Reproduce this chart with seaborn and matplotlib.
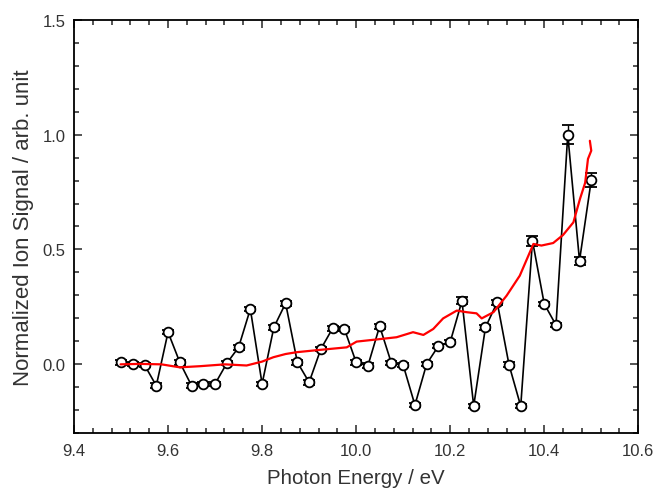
import numpy as np
import pandas as pd
import seaborn as sns
import matplotlib.pyplot as plt
from matplotlib.ticker import MultipleLocator

# ion signal scan, 9.5 - 10.5 eV in 0.025 eV steps
energy = np.round(np.arange(41) * 0.025 + 9.5, 3)
signal = [0.009, 0.002, -0.003, -0.093, 0.14, 0.009, -0.093, -0.085, -0.085, 0.005,
          0.074, 0.241, -0.085, 0.161, 0.266, 0.009, -0.078, 0.067, 0.157, 0.154,
          0.009, -0.006, 0.166, 0.005, -0.003, -0.177, 0.002, 0.08, 0.097, 0.276,
          -0.181, 0.161, 0.27, -0.001, -0.182, 0.538, 0.263, 0.171, 1.0, 0.451,
          0.802]
signal_err = [0.01] * 41
signal_err[29] = 0.015
signal_err[35] = 0.022
signal_err[38] = 0.04
signal_err[39] = 0.018
signal_err[40] = 0.031

# reference curve (red)
ref_energy = [9.499, 9.54, 9.586, 9.625, 9.668, 9.721, 9.767, 9.80, 9.824, 9.85,
              9.874, 9.923, 9.98, 10.001, 10.051, 10.086, 10.121, 10.143, 10.164,
              10.185, 10.214, 10.235, 10.256, 10.267, 10.292, 10.32, 10.348,
              10.377, 10.394, 10.419, 10.44, 10.462, 10.476, 10.487, 10.493,
              10.5, 10.497]
ref_signal = [0.0, 0.002, 0.0, -0.013, -0.008, 0.0, -0.005, 0.012, 0.031, 0.045,
              0.053, 0.063, 0.074, 0.099, 0.11, 0.118, 0.14, 0.128, 0.154,
              0.2, 0.234, 0.227, 0.222, 0.2, 0.227, 0.299, 0.386,
              0.524, 0.517, 0.528, 0.563, 0.618, 0.72, 0.79, 0.894,
              0.93, 0.973]

sns.set_style("ticks")
plt.rcParams['font.family'] = ['Liberation Sans', 'DejaVu Sans']
text_col = '#333333'

scan = pd.DataFrame({'E': energy, 'S': signal})
ref = pd.DataFrame({'E': ref_energy, 'S': ref_signal})

fig = plt.figure(figsize=(6.56, 4.89), dpi=100)
ax = fig.add_axes([0.1128, 0.1119, 0.8602, 0.8458])

ax.errorbar(energy, signal, yerr=signal_err, fmt='none', ecolor='black',
            elinewidth=1.0, capsize=4, capthick=1.3, zorder=2)
sns.lineplot(data=scan, x='E', y='S', ax=ax, color='black', linewidth=1.2,
             marker='o', markersize=7, markerfacecolor='white',
             markeredgecolor='black', markeredgewidth=1.3, zorder=3)
sns.lineplot(data=ref, x='E', y='S', ax=ax, color='red', linewidth=1.6,
             sort=False, estimator=None, zorder=4)

ax.set_xlim(9.4, 10.6)
ax.set_ylim(-0.3, 1.5)
ax.xaxis.set_major_locator(MultipleLocator(0.2))
ax.xaxis.set_minor_locator(MultipleLocator(0.04))
ax.yaxis.set_major_locator(MultipleLocator(0.5))
ax.yaxis.set_minor_locator(MultipleLocator(0.1))
ax.set_xticklabels([f'{v:.1f}' for v in ax.get_xticks()])
ax.tick_params(which='both', direction='in', top=True, right=True,
               labeltop=False, labelright=False, labelsize=12, width=1.1,
               labelcolor=text_col)
ax.tick_params(which='major', length=6)
ax.tick_params(which='minor', length=3.5)
ax.tick_params(axis='x', which='major', pad=7)
ax.tick_params(axis='y', which='major', pad=6)
for s in ax.spines.values():
    s.set_linewidth(1.3)
    s.set_color('black')

ax.set_xlabel('Photon Energy / eV', fontsize=14.8, color=text_col, labelpad=7)
ax.set_ylabel('Normalized Ion Signal / arb. unit', fontsize=16,
              color=text_col, labelpad=6)

fig.savefig('out.png', dpi=100)
